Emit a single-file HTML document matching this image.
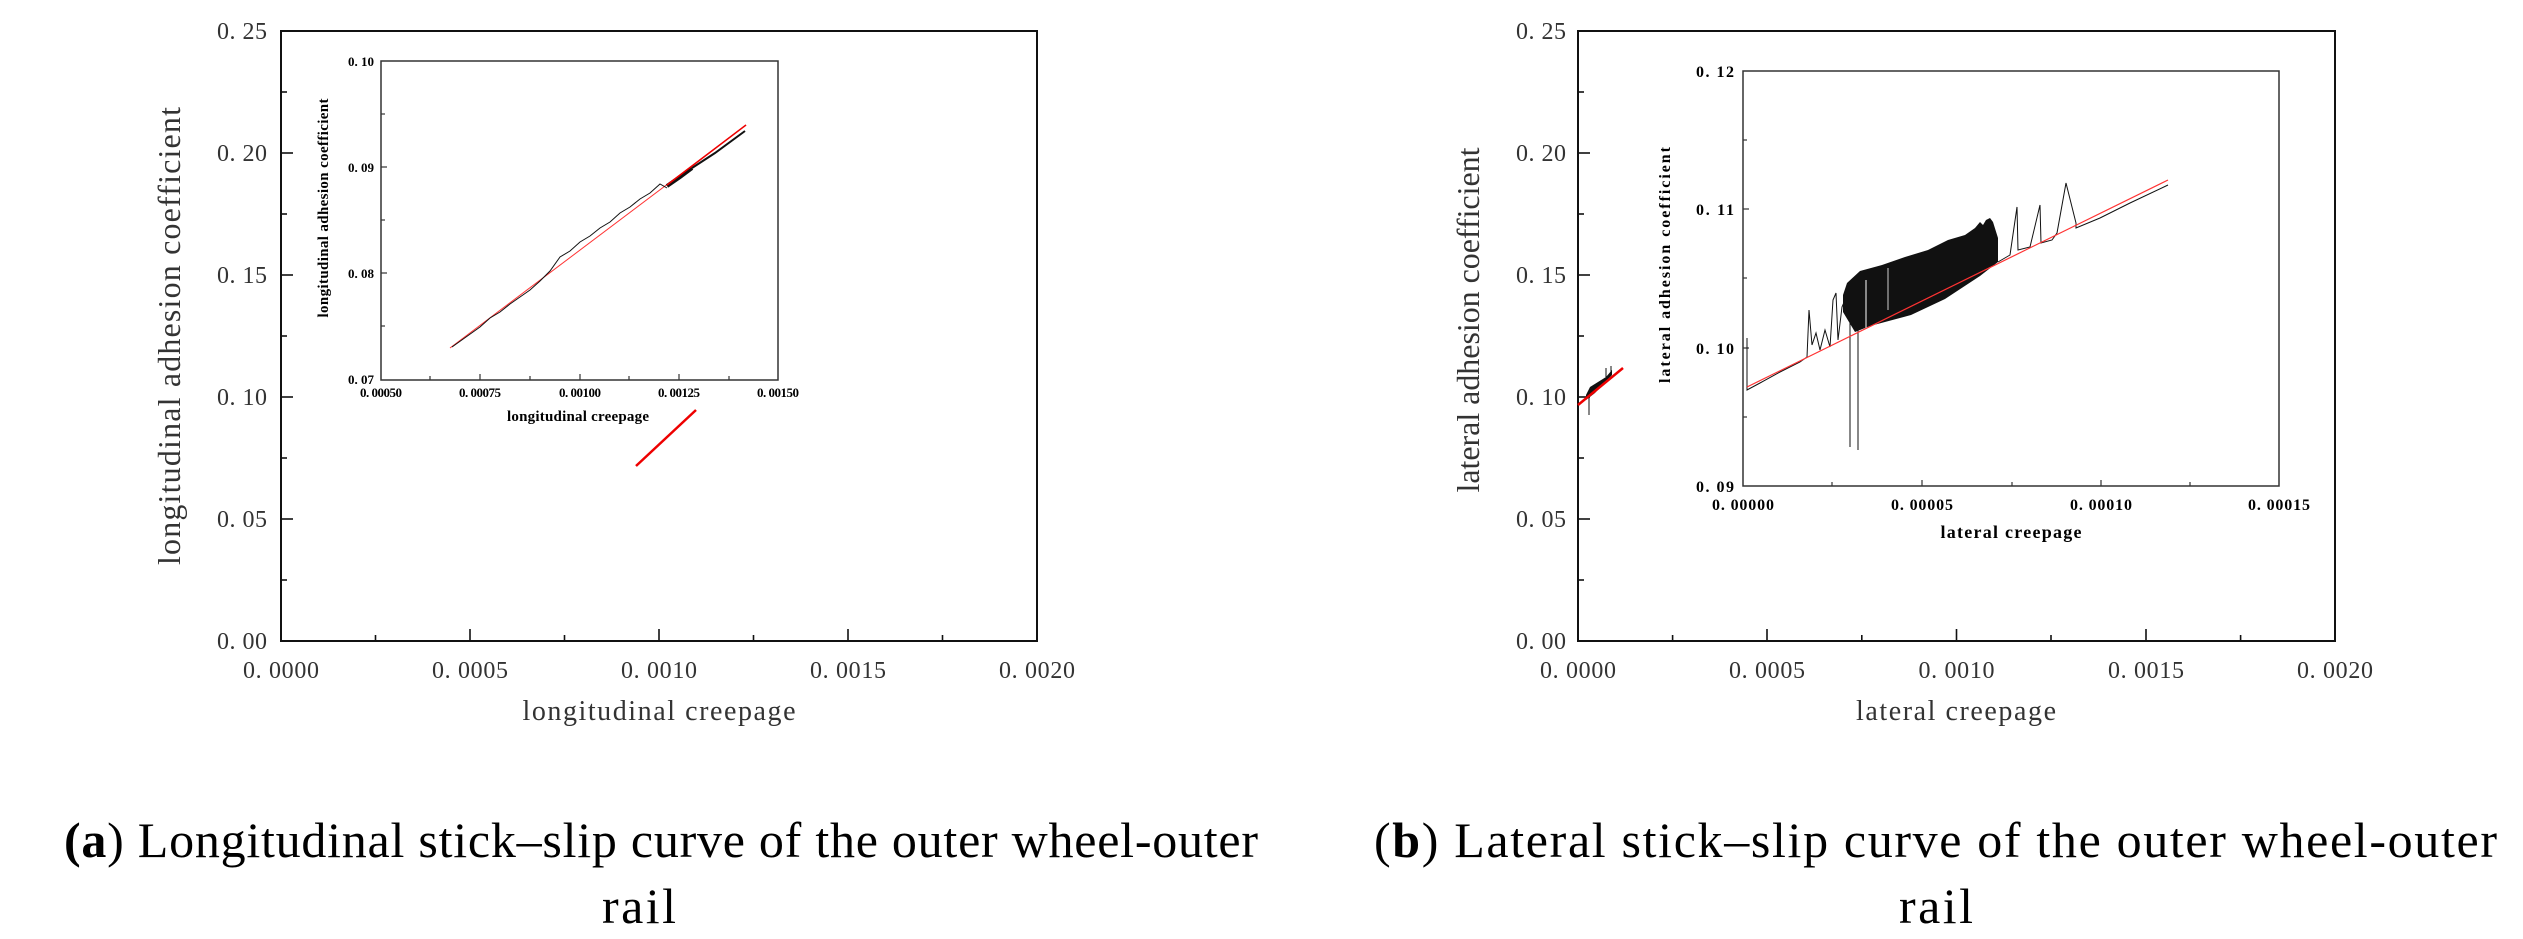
<!DOCTYPE html>
<html><head><meta charset="utf-8"><style>
html,body{margin:0;padding:0;background:#fff;}
svg{display:block;}
.t{font-family:"Liberation Serif",serif;fill:#333;}
.b{font-family:"Liberation Serif",serif;font-weight:bold;fill:#000;}
</style></head><body>
<svg width="2523" height="939" viewBox="0 0 2523 939" xmlns="http://www.w3.org/2000/svg">
<rect width="2523" height="939" fill="#fff"/>

<!-- ===== Plot A ===== -->
<rect x="281" y="31" width="756" height="610" fill="none" stroke="#111" stroke-width="2"/>
<g stroke="#111" stroke-width="1.6">
<line x1="281" y1="92" x2="287" y2="92"/><line x1="281" y1="153" x2="293" y2="153"/>
<line x1="281" y1="214" x2="287" y2="214"/><line x1="281" y1="275" x2="293" y2="275"/>
<line x1="281" y1="336" x2="287" y2="336"/><line x1="281" y1="397" x2="293" y2="397"/>
<line x1="281" y1="458" x2="287" y2="458"/><line x1="281" y1="519" x2="293" y2="519"/>
<line x1="281" y1="580" x2="287" y2="580"/>
<line x1="375.5" y1="641" x2="375.5" y2="635"/><line x1="470" y1="641" x2="470" y2="629"/>
<line x1="564.5" y1="641" x2="564.5" y2="635"/><line x1="659" y1="641" x2="659" y2="629"/>
<line x1="753.5" y1="641" x2="753.5" y2="635"/><line x1="848" y1="641" x2="848" y2="629"/>
<line x1="942.5" y1="641" x2="942.5" y2="635"/>
</g>
<g class="t" font-size="24" text-anchor="end">
<text x="267" y="39" textLength="50">0. 25</text>
<text x="267" y="161" textLength="50">0. 20</text>
<text x="267" y="283" textLength="50">0. 15</text>
<text x="267" y="405" textLength="50">0. 10</text>
<text x="267" y="527" textLength="50">0. 05</text>
<text x="267" y="649" textLength="50">0. 00</text>
</g>
<g class="t" font-size="24" text-anchor="middle">
<text x="281" y="678" textLength="76">0. 0000</text>
<text x="470" y="678" textLength="76">0. 0005</text>
<text x="659" y="678" textLength="76">0. 0010</text>
<text x="848" y="678" textLength="76">0. 0015</text>
<text x="1037" y="678" textLength="76">0. 0020</text>
</g>
<text class="t" x="659" y="720" font-size="28" text-anchor="middle" textLength="273">longitudinal creepage</text>
<text class="t" font-size="32" text-anchor="middle" transform="translate(180,336) rotate(-90)" textLength="458">longitudinal adhesion coefficient</text>
<line x1="636" y1="466" x2="696" y2="410" stroke="#e00" stroke-width="2.5"/>

<!-- Inset A -->
<rect x="381" y="61" width="397" height="319" fill="none" stroke="#333" stroke-width="1.5"/>
<g stroke="#333" stroke-width="1.2">
<line x1="381" y1="114" x2="385" y2="114"/><line x1="381" y1="167" x2="387" y2="167"/>
<line x1="381" y1="220" x2="385" y2="220"/><line x1="381" y1="273" x2="387" y2="273"/>
<line x1="381" y1="326" x2="385" y2="326"/>
<line x1="430" y1="380" x2="430" y2="376"/><line x1="480" y1="380" x2="480" y2="374"/>
<line x1="530" y1="380" x2="530" y2="376"/><line x1="580" y1="380" x2="580" y2="374"/>
<line x1="629" y1="380" x2="629" y2="376"/><line x1="679" y1="380" x2="679" y2="374"/>
<line x1="729" y1="380" x2="729" y2="376"/>
</g>
<g class="b" font-size="13" text-anchor="end">
<text x="374" y="66" textLength="26">0. 10</text>
<text x="374" y="172" textLength="26">0. 09</text>
<text x="374" y="278" textLength="26">0. 08</text>
<text x="374" y="384" textLength="26">0. 07</text>
</g>
<g class="b" font-size="13" text-anchor="middle">
<text x="381" y="397" textLength="42">0. 00050</text>
<text x="480" y="397" textLength="42">0. 00075</text>
<text x="580" y="397" textLength="42">0. 00100</text>
<text x="679" y="397" textLength="42">0. 00125</text>
<text x="778" y="397" textLength="42">0. 00150</text>
</g>
<text class="b" x="578" y="421" font-size="15" text-anchor="middle" textLength="142">longitudinal creepage</text>
<text class="b" font-size="15" text-anchor="middle" transform="translate(328,208) rotate(-90)" textLength="219">longitudinal adhesion coefficient</text>
<line x1="450" y1="348" x2="746" y2="125" stroke="#f33" stroke-width="1"/>
<polyline fill="none" stroke="#111" stroke-width="1" points="452,347 466,337 480,327 490,318 500,312 510,304 520,297 530,290 540,281 550,271 560,257 570,251 580,242 590,236 600,228 610,222 620,213 630,207 640,199 650,193 660,184 667,188"/>
<polyline fill="none" stroke="#111" stroke-width="4" points="667,186 680,177 692,168"/>
<polyline fill="none" stroke="#111" stroke-width="2" points="692,168 715,153 745,131"/>
<line x1="667" y1="185" x2="746" y2="125" stroke="#e00" stroke-width="1.5"/>

<!-- ===== Plot B ===== -->
<rect x="1578" y="31" width="757" height="610" fill="none" stroke="#111" stroke-width="2"/>
<g stroke="#111" stroke-width="1.6">
<line x1="1578" y1="92" x2="1584" y2="92"/><line x1="1578" y1="153" x2="1590" y2="153"/>
<line x1="1578" y1="214" x2="1584" y2="214"/><line x1="1578" y1="275" x2="1590" y2="275"/>
<line x1="1578" y1="336" x2="1584" y2="336"/><line x1="1578" y1="397" x2="1590" y2="397"/>
<line x1="1578" y1="458" x2="1584" y2="458"/><line x1="1578" y1="519" x2="1590" y2="519"/>
<line x1="1578" y1="580" x2="1584" y2="580"/>
<line x1="1672.6" y1="641" x2="1672.6" y2="635"/><line x1="1767" y1="641" x2="1767" y2="629"/>
<line x1="1861.8" y1="641" x2="1861.8" y2="635"/><line x1="1956.5" y1="641" x2="1956.5" y2="629"/>
<line x1="2051" y1="641" x2="2051" y2="635"/><line x1="2146" y1="641" x2="2146" y2="629"/>
<line x1="2240.6" y1="641" x2="2240.6" y2="635"/>
</g>
<g class="t" font-size="24" text-anchor="end">
<text x="1566" y="39" textLength="50">0. 25</text>
<text x="1566" y="161" textLength="50">0. 20</text>
<text x="1566" y="283" textLength="50">0. 15</text>
<text x="1566" y="405" textLength="50">0. 10</text>
<text x="1566" y="527" textLength="50">0. 05</text>
<text x="1566" y="649" textLength="50">0. 00</text>
</g>
<g class="t" font-size="24" text-anchor="middle">
<text x="1578" y="678" textLength="76">0. 0000</text>
<text x="1767" y="678" textLength="76">0. 0005</text>
<text x="1956.5" y="678" textLength="76">0. 0010</text>
<text x="2146" y="678" textLength="76">0. 0015</text>
<text x="2335" y="678" textLength="76">0. 0020</text>
</g>
<text class="t" x="1956" y="720" font-size="28" text-anchor="middle" textLength="200">lateral creepage</text>
<text class="t" font-size="32" text-anchor="middle" transform="translate(1479,320) rotate(-90)" textLength="345">lateral adhesion coefficient</text>
<polygon fill="#111" points="1586,395 1590,387 1606,377 1612,370 1612,375 1595,393 1586,400"/>
<line x1="1589" y1="392" x2="1589" y2="415" stroke="#111" stroke-width="1"/>
<line x1="1606" y1="377" x2="1606" y2="368" stroke="#111" stroke-width="1"/>
<line x1="1611" y1="372" x2="1611" y2="366" stroke="#111" stroke-width="1"/>
<line x1="1578" y1="405" x2="1623" y2="368" stroke="#e00" stroke-width="2.5"/>

<!-- Inset B -->
<rect x="1743" y="71" width="536" height="415" fill="none" stroke="#333" stroke-width="1.5"/>
<g stroke="#333" stroke-width="1.2">
<line x1="1743" y1="140" x2="1747" y2="140"/><line x1="1743" y1="209" x2="1749" y2="209"/>
<line x1="1743" y1="278" x2="1747" y2="278"/><line x1="1743" y1="348" x2="1749" y2="348"/>
<line x1="1743" y1="417" x2="1747" y2="417"/>
<line x1="1832" y1="486" x2="1832" y2="482"/><line x1="1922" y1="486" x2="1922" y2="480"/>
<line x1="2012" y1="486" x2="2012" y2="482"/><line x1="2101" y1="486" x2="2101" y2="480"/>
<line x1="2190" y1="486" x2="2190" y2="482"/>
</g>
<g class="b" font-size="16" text-anchor="end">
<text x="1734" y="77" textLength="38">0. 12</text>
<text x="1734" y="215" textLength="38">0. 11</text>
<text x="1734" y="354" textLength="38">0. 10</text>
<text x="1734" y="492" textLength="38">0. 09</text>
</g>
<g class="b" font-size="16" text-anchor="middle">
<text x="1743" y="510" textLength="62">0. 00000</text>
<text x="1922" y="510" textLength="62">0. 00005</text>
<text x="2101" y="510" textLength="62">0. 00010</text>
<text x="2279" y="510" textLength="62">0. 00015</text>
</g>
<text class="b" x="2011" y="538" font-size="18" text-anchor="middle" textLength="141">lateral creepage</text>
<text class="b" font-size="16" text-anchor="middle" transform="translate(1670,265) rotate(-90)" textLength="236">lateral adhesion coefficient</text>

<polyline fill="none" stroke="#111" stroke-width="1" points="1747,338 1747,390 1760,383 1780,372 1800,362 1807,357 1809,310 1812,345 1816,333 1820,350 1825,330 1830,347 1833,300 1836,293 1838,340 1842,307 1845,300"/>
<line x1="1850" y1="295" x2="1850" y2="447" stroke="#111" stroke-width="1"/>
<line x1="1858" y1="295" x2="1858" y2="450" stroke="#111" stroke-width="1"/>
<polygon fill="#111" points="1843,295 1847,283 1860,271 1882,265 1905,257 1928,250 1948,240 1965,235 1975,228 1980,222 1983,225 1986,220 1990,218 1993,222 1998,238 1998,262 1980,276 1945,299 1911,315 1870,326 1855,332 1843,312"/>
<line x1="1866" y1="280" x2="1866" y2="330" stroke="#fff" stroke-width="1"/>
<line x1="1888" y1="268" x2="1888" y2="310" stroke="#fff" stroke-width="0.8"/>
<polyline fill="none" stroke="#111" stroke-width="1" points="1998,262 2010,255 2017,207 2018,250 2030,247 2040,205 2041,243 2052,240 2057,233 2066,183 2076,223 2076,228 2100,218 2130,203 2168,185"/>
<line x1="1747" y1="387" x2="2168" y2="180" stroke="#f33" stroke-width="1.2"/>

<!-- Captions -->
<text class="t" x="64" y="857" font-size="50" textLength="1194" style="fill:#000"><tspan font-weight="bold">(a</tspan>) Longitudinal stick–slip curve of the outer wheel-outer</text>
<text class="t" x="639" y="923" font-size="50" text-anchor="middle" textLength="74" style="fill:#000">rail</text>
<text class="t" x="1374" y="857" font-size="50" textLength="1123" style="fill:#000">(<tspan font-weight="bold">b</tspan>) Lateral stick–slip curve of the outer wheel-outer</text>
<text class="t" x="1936" y="923" font-size="50" text-anchor="middle" textLength="74" style="fill:#000">rail</text>
</svg>
</body></html>
